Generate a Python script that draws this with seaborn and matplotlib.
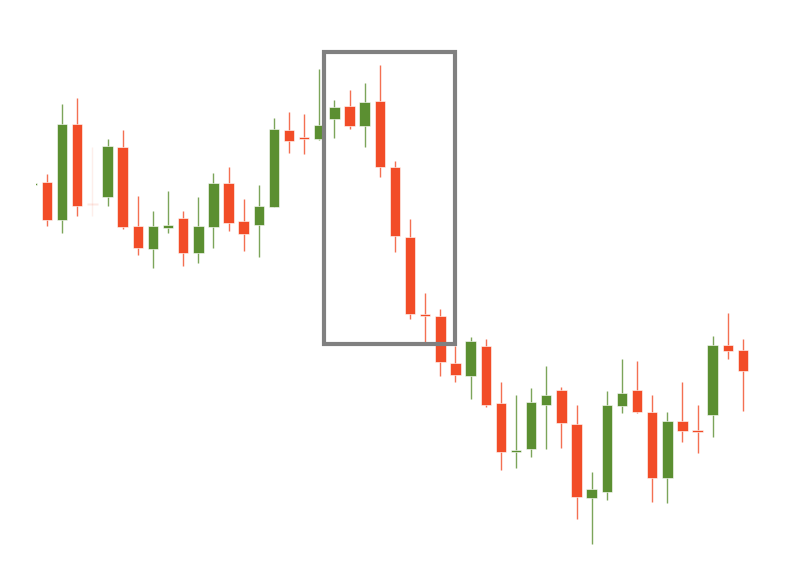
import pandas as pd
import seaborn as sns
import matplotlib.pyplot as plt
from matplotlib.patches import Rectangle

# ==========================================
# Datos de las velas (OHLC)
# ==========================================
dias = list(range(0, 48))
apertura = [391, 394, 356, 452, 372, 379, 429, 350, 327, 348, 358, 323, 349, 393, 355, 351,
            369, 446, 439, 437, 457, 470, 450, 475, 409, 339, 262, 260, 213, 200, 230, 173,
            124, 127, 171, 186, 152, 78, 84, 170, 186, 164, 98, 155, 146, 161, 231, 226]
maximo = [393, 402, 472, 478, 429, 437, 446, 380, 365, 385, 365, 379, 403, 409, 377, 391,
          458, 464, 462, 507, 476, 486, 493, 511, 415, 357, 283, 267, 230, 239, 237, 194,
          181, 188, 210, 189, 171, 104, 185, 217, 215, 181, 164, 194, 171, 240, 263, 237]
minimo = [391, 350, 343, 360, 360, 370, 347, 321, 308, 343, 310, 313, 328, 345, 325, 319,
          369, 423, 422, 436, 438, 447, 429, 399, 324, 257, 234, 200, 194, 177, 169, 106,
          108, 119, 127, 128, 57, 32, 76, 163, 163, 74, 73, 134, 123, 139, 217, 165]
cierre = [393, 356, 452, 370, 371, 430, 349, 328, 350, 351, 323, 350, 393, 353, 342, 370,
          447, 435, 437, 451, 469, 450, 474, 409, 340, 262, 260, 214, 201, 235, 171, 124,
          126, 174, 181, 153, 79, 87, 171, 183, 164, 98, 155, 145, 144, 231, 225, 205]
# vela casi invisible (dia 4)
opacidad = [1.0] * 48
opacidad[4] = 0.12

# zona resaltada (dias y precios)
zona_x = (19.31, 27.97)
zona_y = (232, 524)

VERDE = "#5b8f31"
ROJO = "#f24c27"

df = pd.DataFrame({"dia": dias, "open": apertura, "high": maximo,
                   "low": minimo, "close": cierre, "alpha": opacidad})
df["sube"] = df["close"] >= df["open"]
df["color"] = df["sube"].map({True: VERDE, False: ROJO})
df["base"] = df[["open", "close"]].min(axis=1)
df["altura"] = (df["close"] - df["open"]).abs().clip(lower=2)

sns.set_style("white")
fig = plt.figure(figsize=(7.85, 5.76), dpi=100)
# el eje empieza a 36 px: la primera vela queda casi cortada
ax = fig.add_axes([36 / 785, 0, 1 - 36 / 785, 1])

for _, r in df.iterrows():
    ax.vlines(r["dia"], r["low"], r["high"], color=r["color"],
              linewidth=1.0, alpha=0.8 * r["alpha"], zorder=2)
    ax.bar(r["dia"], r["altura"], bottom=r["base"], width=0.69,
           color=r["color"], edgecolor="white", linewidth=0.4,
           alpha=r["alpha"], zorder=3)

ax.add_patch(Rectangle((zona_x[0], zona_y[0]), zona_x[1] - zona_x[0],
                       zona_y[1] - zona_y[0], fill=False,
                       edgecolor="#808080", linewidth=3.0, zorder=4))

ax.set_xlim(0.273, 49.78)
ax.set_ylim(0, 576)
ax.axis("off")

plt.savefig("out.png", dpi=100)
